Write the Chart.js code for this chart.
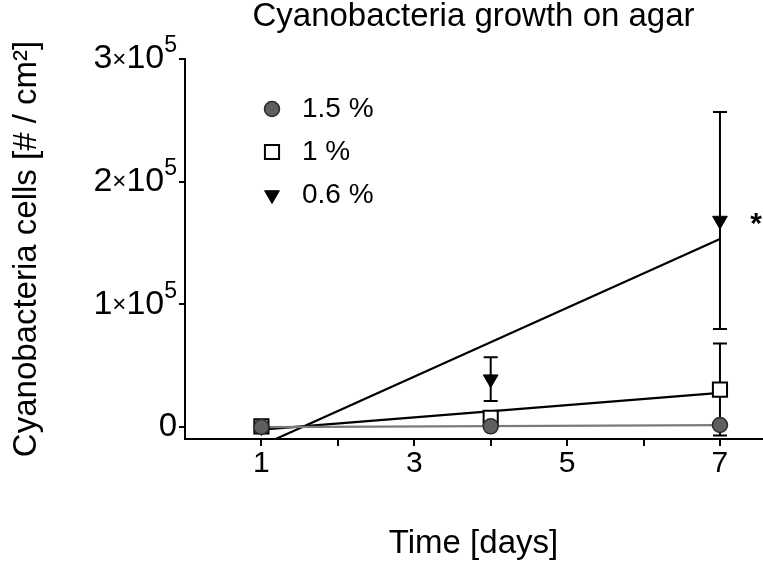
<!DOCTYPE html>
<html>
<head>
<meta charset="utf-8">
<script src="https://cdn.jsdelivr.net/npm/chart.js@4.4.1/dist/chart.umd.min.js"></script>
<style>
 html,body{margin:0;padding:0;background:#fff}
 #wrap{width:763px;height:562px}
</style>
</head>
<body>
<div id="wrap"><canvas id="growth"></canvas></div>
<script>
// values (cells per cm2)
const days=[1,4,7];
const seriesLabels=['1.5 %','1 %','0.6 %'];
const mean15=[0,500,1600];
const sd15=[0,300,1000];
const mean10=[500,7500,30500];
const sd10=[300,2000,37500];
const mean06=[0,39000,168300];
const sd06=[0,17800,88500];
const yTicks=[0,100000,200000,300000];
const xTicks=[1,2,3,4,5,6,7];
const xLabelled=[1,3,5,7];

const FONT="'Liberation Sans', Arial, sans-serif";
Chart.defaults.font.family=FONT;
Chart.defaults.color='#000';

// least squares line through a series, evaluated at first and last day
function fit(xs,ys){
 const n=xs.length;
 const mx=xs.reduce((a,b)=>a+b,0)/n, my=ys.reduce((a,b)=>a+b,0)/n;
 let sxy=0,sxx=0;
 xs.forEach((x,i)=>{sxy+=(x-mx)*(ys[i]-my);sxx+=(x-mx)*(x-mx);});
 const b=sxy/sxx,a=my-b*mx;
 return [{x:xs[0],y:a+b*xs[0]},{x:xs[n-1],y:a+b*xs[n-1]}];
}
const pts=(ys)=>days.map((d,i)=>({x:d,y:ys[i]}));

const styles=[
 {pointStyle:'circle',pointRadius:7.5,rotation:0,bg:'#5f5f5f',border:'#2a2a2a',bw:1.5,line:'#7a7a7a'},
 {pointStyle:'rect',pointRadius:10,rotation:0,bg:'#ffffff',border:'#000',bw:2,line:'#000'},
 {pointStyle:'triangle',pointRadius:8.5,rotation:180,bg:'#000',border:'#000',bw:1,line:'#000'}
];
const means=[mean15,mean10,mean06];
const sds=[sd15,sd10,sd06];

const datasets=[];
means.forEach((m,i)=>{
 const s=styles[i];
 datasets.push({
  label:seriesLabels[i],data:pts(m),showLine:false,order:i,
  pointStyle:s.pointStyle,pointRadius:s.pointRadius,pointRotation:s.rotation,
  pointBackgroundColor:s.bg,pointBorderColor:s.border,pointBorderWidth:s.bw
 });
});
means.forEach((m,i)=>{
 datasets.push({
  label:'fit',data:fit(days,m),showLine:true,pointRadius:0,order:3+i,
  borderColor:styles[i].line,borderWidth:2.2,fill:false
 });
});

const errorBars={
 id:'errorBars',
 beforeDatasetsDraw(chart){
  const {ctx,scales:{x,y}}=chart;
  ctx.save();
  ctx.strokeStyle='#000';ctx.lineWidth=2;
  means.forEach((m,i)=>{
   m.forEach((v,j)=>{
    if(!sds[i][j])return;
    const px=x.getPixelForValue(days[j]);
    const top=y.getPixelForValue(v+sds[i][j]);
    const bot=y.getPixelForValue(v-sds[i][j]);
    ctx.beginPath();
    ctx.moveTo(px,top);ctx.lineTo(px,bot);
    ctx.moveTo(px-7,top);ctx.lineTo(px+7,top);
    ctx.moveTo(px-7,bot);ctx.lineTo(px+7,bot);
    ctx.stroke();
   });
  });
  ctx.restore();
 }
};

const extras={
 id:'extras',
 afterDraw(chart){
  const {ctx,chartArea,scales:{x,y}}=chart;
  ctx.save();
  // title over the plot area
  ctx.fillStyle='#000';
  ctx.font='33px '+FONT;
  ctx.textAlign='center';ctx.textBaseline='middle';
  ctx.fillText('Cyanobacteria growth on agar',(chartArea.left+chartArea.right)/2,17);

  // y tick labels with superscript exponent
  yTicks.forEach(v=>{
   const py=y.getPixelForValue(v);
   const right=177;
   ctx.textBaseline='middle';ctx.textAlign='left';
   if(v===0){
    ctx.font='33px '+FONT;
    const w=ctx.measureText('0').width;
    ctx.fillText('0',right-w,py);
    return;
   }
   const n=String(v/100000);
   const parts=[[n,'34px',0],['\u00d7','24px',1],['10','34px',0],['5','23px',-13]];
   let total=0;
   parts.forEach(p=>{ctx.font=p[1]+' '+FONT;total+=ctx.measureText(p[0]).width;});
   let cx=right-total;
   parts.forEach(p=>{
    ctx.font=p[1]+' '+FONT;
    ctx.fillText(p[0],cx,py+p[2]);
    cx+=ctx.measureText(p[0]).width;
   });
  });

  // legend
  const rows=[109,152,195];
  chart.data.datasets.slice(0,3).forEach((ds,i)=>{
   const s=styles[i];
   ctx.fillStyle=s.bg;ctx.strokeStyle=s.border;ctx.lineWidth=s.bw;
   Chart.helpers.drawPoint(ctx,{pointStyle:s.pointStyle,radius:s.pointRadius,rotation:s.rotation,borderWidth:s.bw},272,rows[i]);
   ctx.fillStyle='#000';
   ctx.font='28px '+FONT;ctx.textAlign='left';ctx.textBaseline='middle';
   ctx.fillText(ds.label,302,rows[i]);
  });

  // significance star next to the 0.6 % point on day 7
  ctx.font='bold 30px '+FONT;ctx.textAlign='center';ctx.textBaseline='alphabetic';
  ctx.fillText('*',x.getPixelForValue(days[2])+36,y.getPixelForValue(mean06[2])+12);
  ctx.restore();
 }
};

new Chart(document.getElementById('growth'),{
 type:'line',
 data:{datasets},
 options:{
  responsive:true,maintainAspectRatio:false,animation:false,
  layout:{autoPadding:false,padding:{top:59,right:1,left:0,bottom:0}},
  plugins:{legend:{display:false},tooltip:{enabled:false},title:{display:false}},
  scales:{
   x:{
    type:'linear',min:0,max:7.55,
    afterBuildTicks:s=>{s.ticks=xTicks.map(v=>({value:v}));},
    afterFit:s=>{s.height=123;},
    ticks:{font:{size:30,lineHeight:1},padding:3,maxRotation:0,autoSkip:false,
     callback:v=>xLabelled.includes(v)?String(v):''},
    grid:{drawOnChartArea:false,drawTicks:true,tickLength:7,color:'#000',lineWidth:2},
    border:{display:true,color:'#000',width:2},
    title:{display:true,text:'Time [days]',font:{size:33,lineHeight:1},padding:{top:0,bottom:2}}
   },
   y:{
    type:'linear',min:-9800,max:300000,
    afterBuildTicks:s=>{s.ticks=yTicks.map(v=>({value:v}));},
    afterFit:s=>{s.width=185;},
    ticks:{callback:()=>'',padding:1},
    grid:{drawOnChartArea:false,drawTicks:true,tickLength:6,color:'#000',lineWidth:2},
    border:{display:true,color:'#000',width:2},
    title:{display:true,text:'Cyanobacteria cells [# / cm\u00b2]',font:{size:33,lineHeight:1},padding:{top:10,bottom:0}}
   }
  }
 },
 plugins:[errorBars,extras]
});
</script>
</body>
</html>
